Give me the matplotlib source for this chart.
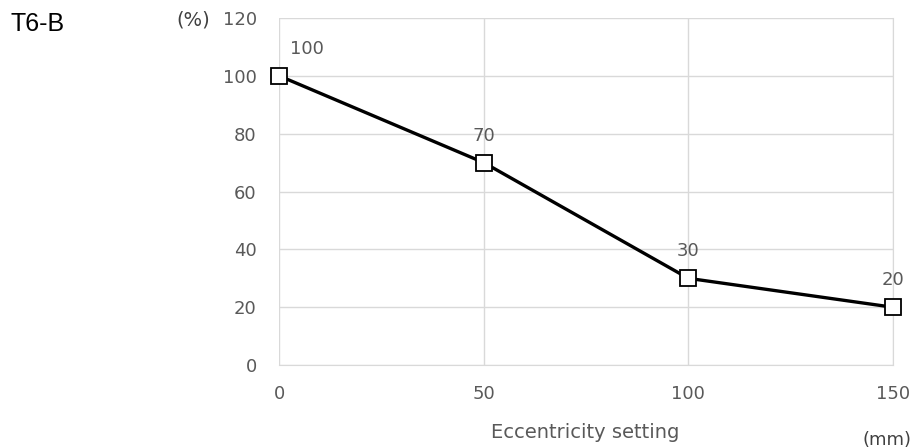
import matplotlib.pyplot as plt

eccentricity = [0, 50, 100, 150]
ratio = [100, 70, 30, 20]
x_ticks = [0, 50, 100, 150]
y_ticks = [0, 20, 40, 60, 80, 100, 120]

fig = plt.figure(figsize=(9.23, 4.48), dpi=100)
ax = fig.add_axes([0.3023, 0.185, 0.6652, 0.775])

ax.plot(eccentricity, ratio, color='black', linewidth=2.4, marker='s',
        markersize=12, markerfacecolor='white', markeredgecolor='black',
        markeredgewidth=1.3, zorder=3, clip_on=False)

for x, y in zip(eccentricity, ratio):
    dx = 28 if x == 0 else 0
    ax.annotate(str(y), (x, y), xytext=(dx, 27), textcoords='offset pixels',
                ha='center', va='center', fontsize=13, color='#595959')

ax.set_xlim(0, 150)
ax.set_ylim(0, 120)
ax.set_xticks(x_ticks)
ax.set_yticks(y_ticks)
ax.grid(True, color='#d9d9d9', linewidth=1)
ax.set_axisbelow(True)
ax.spines['top'].set_visible(False)
ax.spines['left'].set_visible(False)
ax.spines['right'].set_color('#d9d9d9')
ax.spines['bottom'].set_color('#d9d9d9')
ax.tick_params(length=0, labelsize=13, labelcolor='#595959')
ax.tick_params(axis='x', pad=14)
ax.tick_params(axis='y', pad=16)

fig.text(0.011, 0.946, 'T6-B', fontsize=18, color='black', ha='left', va='center',
         family='Liberation Sans')
fig.text(0.191, 0.955, '(%)', fontsize=14, color='#404040', ha='left', va='center')
fig.text(0.634, 0.035, 'Eccentricity setting', fontsize=14, color='#595959',
         ha='center', va='center')
fig.text(0.961, 0.018, '(mm)', fontsize=13, color='#404040', ha='center', va='center')

fig.savefig('out.png', dpi=100)
